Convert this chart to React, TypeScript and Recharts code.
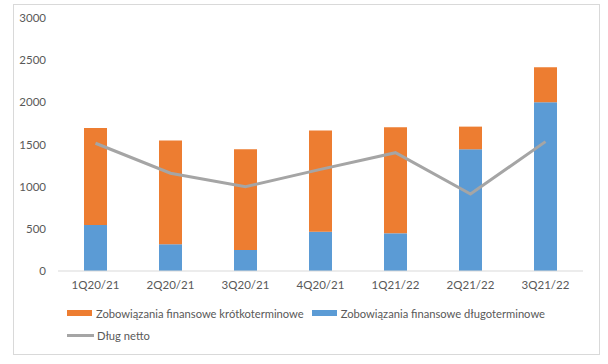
import {
  ComposedChart,
  Bar,
  Line,
  XAxis,
  YAxis,
} from "recharts";

const quarters = ["1Q20/21", "2Q20/21", "3Q20/21", "4Q20/21", "1Q21/22", "2Q21/22", "3Q21/22"];
const shortTerm = [1150, 1229, 1194, 1199, 1257, 269, 415];
const longTerm = [546, 317, 249, 466, 447, 1443, 2001];
const netDebt = [1515, 1159, 1000, 1205, 1403, 913, 1534];
const yTicks = [0, 500, 1000, 1500, 2000, 2500, 3000];

const SHORT_LABEL = "Zobowiązania finansowe krótkoterminowe";
const LONG_LABEL = "Zobowiązania finansowe długoterminowe";
const NET_LABEL = "Dług netto";

const ORANGE = "#ED7D31";
const BLUE = "#5B9BD5";
const GRAY = "#A5A5A5";
const TEXT = "#595959";
const FONT = "Lato, 'Noto Sans', sans-serif";

const data = quarters.map((q, i) => ({
  quarter: q,
  short: shortTerm[i],
  long: longTerm[i],
  net: netDebt[i],
}));

function Swatch({ color }: { color: string }) {
  return (
    <span
      style={{
        display: "inline-block",
        width: 25,
        height: 6,
        background: color,
        marginRight: 4,
      }}
    />
  );
}

function LineSwatch() {
  return (
    <span
      style={{
        display: "inline-block",
        width: 27,
        height: 3,
        background: GRAY,
        marginRight: 3,
      }}
    />
  );
}

// legend laid out by hand, like the Excel original
function ChartLegend() {
  const row = { display: "flex", alignItems: "center", height: 16, whiteSpace: "nowrap" as const };
  return (
    <div
      style={{
        position: "absolute",
        left: 67,
        top: 305,
        fontFamily: FONT,
        fontSize: 11.2,
        color: TEXT,
      }}
    >
      <div style={row}>
        <Swatch color={ORANGE} />
        <span style={{ marginRight: 8 }}>{SHORT_LABEL}</span>
        <Swatch color={BLUE} />
        <span>{LONG_LABEL}</span>
      </div>
      <div style={{ ...row, marginTop: 6 }}>
        <LineSwatch />
        <span>{NET_LABEL}</span>
      </div>
    </div>
  );
}

export default function App() {
  return (
    <div style={{ position: "absolute", left: 0, top: 0, width: 608, height: 364, background: "#fff" }}>
      <div
        style={{
          position: "absolute",
          left: 13,
          top: 4,
          width: 585,
          height: 349,
          border: "1px solid #D9D9D9",
        }}
      />
      <div style={{ position: "absolute", left: 0, top: 0 }}>
        <ComposedChart
          width={608}
          height={364}
          data={data}
          margin={{ top: 18, right: 25, bottom: 63, left: 0 }}
          barSize={23}
        >
          <XAxis
            dataKey="quarter"
            height={30}
            axisLine={{ stroke: "#D9D9D9" }}
            tickLine={false}
            tickSize={0}
            tickMargin={10}
            tick={{ fontSize: 11.5, fill: TEXT, fontFamily: FONT }}
            interval={0}
          />
          <YAxis
            width={58}
            domain={[0, 3000]}
            ticks={yTicks}
            axisLine={false}
            tickLine={false}
            tickSize={0}
            tickMargin={12}
            tick={{ fontSize: 11.5, fill: TEXT, fontFamily: FONT }}
          />
          <Bar dataKey="long" name={LONG_LABEL} stackId="a" fill={BLUE} isAnimationActive={false} />
          <Bar dataKey="short" name={SHORT_LABEL} stackId="a" fill={ORANGE} isAnimationActive={false} />
          <Line
            type="linear"
            dataKey="net"
            name={NET_LABEL}
            stroke={GRAY}
            strokeWidth={3}
            dot={false}
            isAnimationActive={false}
          />
        </ComposedChart>
      </div>
      <ChartLegend />
    </div>
  );
}
